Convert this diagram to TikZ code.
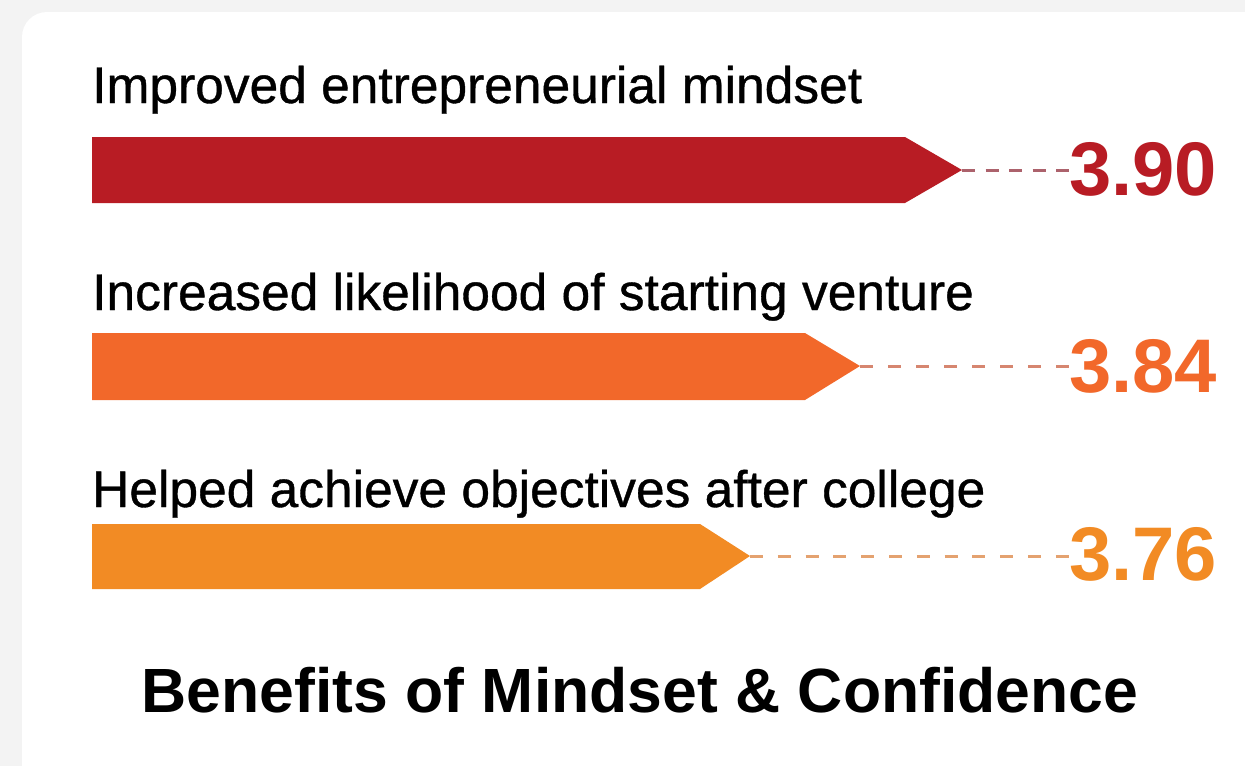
\documentclass[tikz,border=0pt]{standalone}
\usepackage{fontspec}
\setmainfont{Liberation Sans}
\newfontfamily\mediumfont[FakeBold=0.7]{Liberation Sans}
\usepackage{xcolor}
\usepackage{tikz}
\usetikzlibrary{positioning}

\definecolor{cardGray}{RGB}{243,243,243}
\definecolor{barRed}{RGB}{184,28,36}
\definecolor{barOrange}{RGB}{242,104,42}
\definecolor{barAmber}{RGB}{242,139,36}
\definecolor{lineRed}{RGB}{172,98,108}
\definecolor{lineOrange}{RGB}{214,134,112}
\definecolor{lineAmber}{RGB}{228,162,112}

\begin{document}
\begin{tikzpicture}[x=1pt,y=-1pt,
    label/.style={anchor=base west,inner sep=0pt,font=\fontsize{51.5}{60}\mediumfont},
    value/.style={anchor=west,inner sep=0pt,font=\fontsize{76}{80}\selectfont\bfseries},
    title/.style={anchor=base,inner sep=0pt,font=\fontsize{62.5}{72}\selectfont\bfseries},
    link/.style={line width=3pt,dash pattern=on 13pt off #1}]

\useasboundingbox (0,0) rectangle (1245,766);
\fill[cardGray] (0,0) rectangle (1245,766);
\begin{scope}
    \clip (0,0) rectangle (1245,766);
    \fill[white,rounded corners=25pt] (22,12) rectangle (1300,820);
\end{scope}

% bars
\fill[barRed]    (92,137) -- (905,137) -- (962,170) -- (905,203) -- (92,203) -- cycle;
\fill[barOrange] (92,333) -- (805,333) -- (860,366) -- (805,400) -- (92,400) -- cycle;
\fill[barAmber]  (92,524) -- (700,524) -- (750,556) -- (700,589) -- (92,589) -- cycle;
\coordinate (T_1) at (962,170);
\coordinate (T_2) at (860,366);
\coordinate (T_3) at (750,556);

% labels
\node[label] (L_1) at (92,103) {Improved entrepreneurial mindset};
\node[label] (L_2) at (92,310) {Increased likelihood of starting venture};
\node[label] (L_3) at (92,507) {Helped achieve objectives after college};

% values
\node[value,text=barRed]    (V_1) at (1069,169) {3.90};
\node[value,text=barOrange] (V_2) at (1069,366) {3.84};
\node[value,text=barAmber]  (V_3) at (1069,554) {3.76};

% dashed leaders (gap picked so both ends get a dash)
\draw[link=10.5pt,lineRed]  (T_1) -- (V_1.west |- T_1);
\draw[link=15pt,lineOrange] (T_2) -- (V_2.west |- T_2);
\draw[link=14.8pt,lineAmber] (T_3) -- (V_3.west |- T_3);

\node[title] (title) at (640,712) {Benefits of Mindset \& Confidence};

\end{tikzpicture}
\end{document}
